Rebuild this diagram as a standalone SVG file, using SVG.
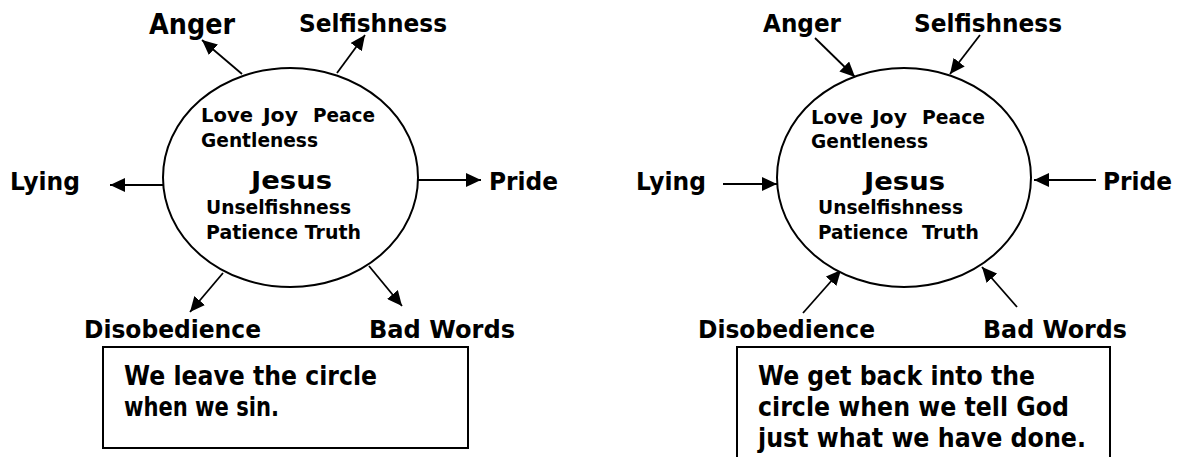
<svg xmlns="http://www.w3.org/2000/svg" width="1177" height="457" viewBox="0 0 1177 457">
<style>
text{font-family:"DejaVu Sans","Liberation Sans",sans-serif;font-weight:bold;fill:#000}
.lbl{font-size:25px}
.big{font-size:28px}
.in{font-size:19px}
.jes{font-size:25px}
.box{font-size:26px}
.ring{fill:#fff;stroke:#000;stroke-width:2}
.frame{fill:#fff;stroke:#000;stroke-width:2}
.conn line{stroke:#000;stroke-width:1.8;marker-end:url(#ah)}
</style>
<defs>
<marker id="ah" markerUnits="userSpaceOnUse" markerWidth="16" markerHeight="14" refX="15" refY="7" orient="auto">
<path d="M0,0 L15,7 L0,14 z" fill="#000"/>
</marker>
</defs>
<rect width="1177" height="457" fill="#fff"/>

<g id="connectors" class="conn">
<line x1="242" y1="74" x2="202" y2="40"/>
<line x1="337" y1="73" x2="365" y2="35"/>
<line x1="163" y1="185" x2="110" y2="185"/>
<line x1="418" y1="180" x2="481" y2="180"/>
<line x1="223" y1="273" x2="190" y2="312"/>
<line x1="369" y1="266" x2="402" y2="306"/>
<line x1="815" y1="38" x2="855" y2="77"/>
<line x1="980" y1="35" x2="950" y2="74"/>
<line x1="723" y1="184" x2="777" y2="184"/>
<line x1="1096" y1="180" x2="1034" y2="180"/>
<line x1="803" y1="313" x2="841" y2="270"/>
<line x1="1017" y1="307" x2="982" y2="267"/>
</g>

<g id="circle-left">
<ellipse class="ring" cx="290.5" cy="177.5" rx="127.5" ry="109.5"/>
<text class="in" x="201" y="122" textLength="52" lengthAdjust="spacingAndGlyphs">Love</text>
<text class="in" x="263" y="122" textLength="35" lengthAdjust="spacingAndGlyphs">Joy</text>
<text class="in" x="313" y="122" textLength="62" lengthAdjust="spacingAndGlyphs">Peace</text>
<text class="in" x="201" y="147" textLength="117" lengthAdjust="spacingAndGlyphs">Gentleness</text>
<text class="jes" x="251" y="189" textLength="81" lengthAdjust="spacingAndGlyphs">Jesus</text>
<text class="in" x="206" y="214" textLength="145" lengthAdjust="spacingAndGlyphs">Unselfishness</text>
<text class="in" x="206" y="239" textLength="155" lengthAdjust="spacingAndGlyphs">Patience Truth</text>
</g>

<g id="left-anger"><text class="big" x="149" y="34" textLength="86" lengthAdjust="spacingAndGlyphs">Anger</text></g>
<g id="left-selfishness"><text class="lbl" x="299" y="32" textLength="148" lengthAdjust="spacingAndGlyphs">Selfishness</text></g>
<g id="left-lying"><text class="lbl" x="10" y="190" textLength="70" lengthAdjust="spacingAndGlyphs">Lying</text></g>
<g id="left-pride"><text class="lbl" x="489" y="190" textLength="69" lengthAdjust="spacingAndGlyphs">Pride</text></g>
<g id="left-disobedience"><text class="lbl" x="84" y="338" textLength="177" lengthAdjust="spacingAndGlyphs">Disobedience</text></g>
<g id="left-badwords"><text class="lbl" x="369" y="338" textLength="146" lengthAdjust="spacingAndGlyphs">Bad Words</text></g>

<g id="box-left">
<rect class="frame" x="103" y="347" width="365" height="101"/>
<text class="box" x="124" y="385" textLength="253" lengthAdjust="spacingAndGlyphs">We leave the circle</text>
<text class="box" x="124" y="416" textLength="155" lengthAdjust="spacingAndGlyphs">when we sin.</text>
</g>

<g id="circle-right">
<ellipse class="ring" cx="904" cy="177.5" rx="127" ry="109.5"/>
<text class="in" x="811" y="124" textLength="52" lengthAdjust="spacingAndGlyphs">Love</text>
<text class="in" x="872" y="124" textLength="35" lengthAdjust="spacingAndGlyphs">Joy</text>
<text class="in" x="922" y="124" textLength="63" lengthAdjust="spacingAndGlyphs">Peace</text>
<text class="in" x="811" y="148" textLength="117" lengthAdjust="spacingAndGlyphs">Gentleness</text>
<text class="jes" x="864" y="190" textLength="81" lengthAdjust="spacingAndGlyphs">Jesus</text>
<text class="in" x="818" y="214" textLength="145" lengthAdjust="spacingAndGlyphs">Unselfishness</text>
<text class="in" x="818" y="239" textLength="90" lengthAdjust="spacingAndGlyphs">Patience</text>
<text class="in" x="922" y="239" textLength="57" lengthAdjust="spacingAndGlyphs">Truth</text>
</g>

<g id="right-anger"><text class="lbl" x="763" y="32" textLength="78" lengthAdjust="spacingAndGlyphs">Anger</text></g>
<g id="right-selfishness"><text class="lbl" x="914" y="32" textLength="148" lengthAdjust="spacingAndGlyphs">Selfishness</text></g>
<g id="right-lying"><text class="lbl" x="636" y="190" textLength="70" lengthAdjust="spacingAndGlyphs">Lying</text></g>
<g id="right-pride"><text class="lbl" x="1103" y="190" textLength="69" lengthAdjust="spacingAndGlyphs">Pride</text></g>
<g id="right-disobedience"><text class="lbl" x="698" y="338" textLength="177" lengthAdjust="spacingAndGlyphs">Disobedience</text></g>
<g id="right-badwords"><text class="lbl" x="983" y="338" textLength="144" lengthAdjust="spacingAndGlyphs">Bad Words</text></g>

<g id="box-right">
<rect class="frame" x="737" y="347" width="373" height="130"/>
<text class="box" x="758" y="385" textLength="277" lengthAdjust="spacingAndGlyphs">We get back into the</text>
<text class="box" x="758" y="416" textLength="311" lengthAdjust="spacingAndGlyphs">circle when we tell God</text>
<text class="box" x="758" y="447" textLength="328" lengthAdjust="spacingAndGlyphs">just what we have done.</text>
</g>
</svg>
